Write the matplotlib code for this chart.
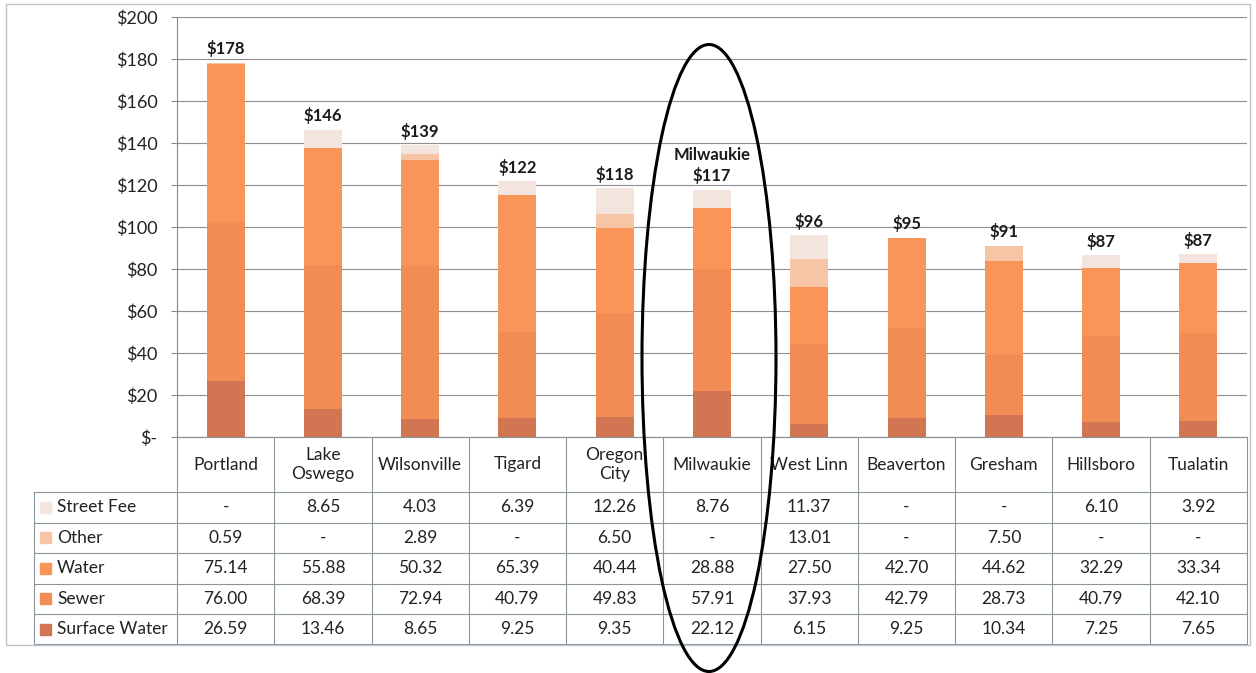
import matplotlib
matplotlib.use("Agg")
import matplotlib.pyplot as plt
from matplotlib.patches import Ellipse, Rectangle
import numpy as np

plt.rcParams['font.family'] = ['Lato', 'DejaVu Sans']

cities = ["Portland", "Lake\nOswego", "Wilsonville", "Tigard", "Oregon\nCity", "Milwaukie",
          "West Linn", "Beaverton", "Gresham", "Hillsboro", "Tualatin"]
series_names = ["Street Fee", "Other", "Water", "Sewer", "Surface Water"]
street_fee = [0, 8.65, 4.03, 6.39, 12.26, 8.76, 11.37, 0, 0, 6.10, 3.92]
other = [0.59, 0, 2.89, 0, 6.50, 0, 13.01, 0, 7.50, 0, 0]
water = [75.14, 55.88, 50.32, 65.39, 40.44, 28.88, 27.50, 42.70, 44.62, 32.29, 33.34]
sewer = [76.00, 68.39, 72.94, 40.79, 49.83, 57.91, 37.93, 42.79, 28.73, 40.79, 42.10]
surface_water = [26.59, 13.46, 8.65, 9.25, 9.35, 22.12, 6.15, 9.25, 10.34, 7.25, 7.65]
total_labels = ["$178", "$146", "$139", "$122", "$118", "Milwaukie\n$117", "$96", "$95", "$91", "$87", "$87"]
yticks = [0, 20, 40, 60, 80, 100, 120, 140, 160, 180, 200]
ytick_labels = ["$-", "$20", "$40", "$60", "$80", "$100", "$120", "$140", "$160", "$180", "$200"]

colors = {"Street Fee": "#f3e4de", "Other": "#f8c4a6", "Water": "#f99558",
          "Sewer": "#f28c55", "Surface Water": "#d27552"}

W, H = 1256, 673
fig = plt.figure(figsize=(W / 100, H / 100), dpi=100)

def fx(px):
    return px / W

def fy(py):
    return 1 - py / H

# outer frame
fig.add_artist(Rectangle((fx(6), fy(645)), fx(1250) - fx(6), fy(4) - fy(645),
                         transform=fig.transFigure, fill=False, edgecolor="#b9c5cd", lw=1.0))

# main axes
ax_l, ax_r, ax_t, ax_b = 177, 1247, 17, 437
ax = fig.add_axes([fx(ax_l), fy(ax_b), fx(ax_r) - fx(ax_l), fy(ax_t) - fy(ax_b)])
ax.set_xlim(-0.5, 10.5)
ax.set_ylim(0, 200)
x = np.arange(len(cities))
bw = 0.39
stack = [("Surface Water", surface_water), ("Sewer", sewer), ("Water", water),
         ("Other", other), ("Street Fee", street_fee)]
bottom = np.zeros(len(cities))
for name, vals in stack:
    v = np.array(vals)
    ax.bar(x, v, bw, bottom=bottom, color=colors[name], edgecolor="none", zorder=3)
    bottom += v
for i, lab in enumerate(total_labels):
    ax.annotate(lab, (x[i], bottom[i]), xytext=(0, 4), textcoords="offset points",
                ha="center", va="bottom", fontsize=12, fontweight="bold",
                color="#1a1a1a", linespacing=1.3, zorder=5)

ax.set_yticks(yticks)
ax.set_yticklabels(ytick_labels, fontsize=13, color="#222222")
ax.yaxis.grid(True, color="#8f8f8f", lw=0.8, zorder=0)
ax.set_xticks([])
for s in ["top", "right"]:
    ax.spines[s].set_visible(False)
ax.spines["left"].set_color("#7f8a92")
ax.spines["bottom"].set_color("#7f8a92")
ax.tick_params(axis="y", length=4, color="#7f8a92", pad=10)

# table axes
t_l, t_r, t_t, t_b = 34, 1247, 437, 644
tax = fig.add_axes([fx(t_l), fy(t_b), fx(t_r) - fx(t_l), fy(t_t) - fy(t_b)])
unit = (ax_r - ax_l) / 11.0
tax.set_xlim(-0.5 - (ax_l - t_l) / unit, 10.5)
tax.set_ylim(t_b - t_t, 0)
tax.axis("off")
row_edges = [0, 55, 85.5, 116, 146.5, 177, 207]
lc = "#8a949a"
for j, y in enumerate(row_edges):
    x0 = -0.5 if j == 0 else tax.get_xlim()[0]
    tax.plot([x0, 10.5], [y, y], color=lc, lw=0.8, clip_on=False)
for k in range(12):
    tax.plot([k - 0.5, k - 0.5], [0, 207], color=lc, lw=0.8, clip_on=False)
xl0 = tax.get_xlim()[0]
tax.plot([xl0, xl0], [55, 207], color=lc, lw=0.8, clip_on=False)

fs = 12.5
for i, c in enumerate(cities):
    tax.text(i, 27.5, c, ha="center", va="center", fontsize=fs, color="#222222", linespacing=1.2)

rows = [street_fee, other, water, sewer, surface_water]
for r, (name, vals) in enumerate(zip(series_names, rows)):
    yc = (row_edges[r + 1] + row_edges[r + 2]) / 2
    sw = 11 / unit
    tax.add_patch(Rectangle((xl0 + 6 / unit, yc - 5.5), sw, 11, color=colors[name], clip_on=False))
    tax.text(xl0 + 23 / unit, yc, name, ha="left", va="center", fontsize=fs, color="#222222")
    for i, v in enumerate(vals):
        s = "-" if v == 0 else f"{v:.2f}"
        tax.text(i, yc, s, ha="center", va="center", fontsize=fs, color="#222222")

# highlight ellipse around Milwaukie
fig.add_artist(Ellipse((fx(709), fy(358)), fx(134), fy(45) - fy(672),
                       transform=fig.transFigure, fill=False, edgecolor="black", lw=2.2, zorder=10))

fig.savefig("out.png", dpi=100)
